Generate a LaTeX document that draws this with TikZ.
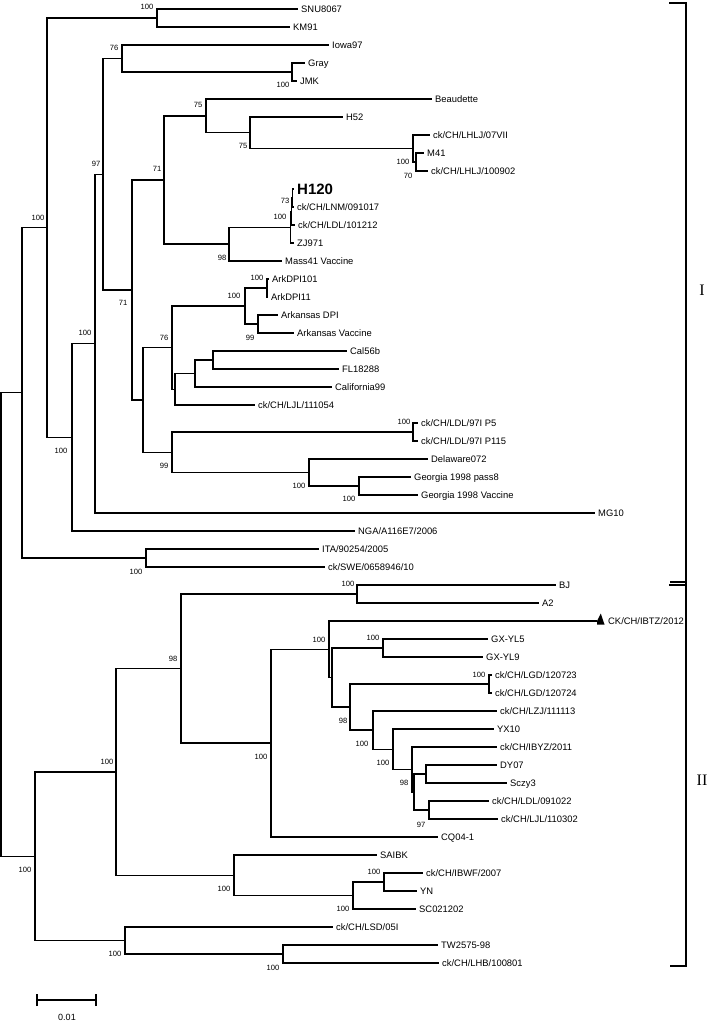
\documentclass[tikz,border=0pt]{standalone}
\usepackage{fontspec}
\setmainfont{Liberation Sans}
\newfontfamily\romfont{Liberation Serif}
\begin{document}
\begin{tikzpicture}[x=1pt,y=-1pt,
  br/.style={line width=1.3pt},
  brk/.style={line width=1.8pt},
  taxon/.style={anchor=west, inner xsep=3pt, inner ysep=0pt, text height=6.7pt, text depth=0pt, font=\fontsize{9.4}{9.4}\selectfont},
  bigtaxon/.style={anchor=west, inner xsep=3pt, inner ysep=0pt, text height=10.7pt, text depth=0pt, font=\fontsize{15}{15}\selectfont\bfseries},
  bs/.style={inner sep=0pt, font=\fontsize{7.6}{7.6}\selectfont},
  clade/.style={inner sep=0pt, font=\fontsize{16}{16}\selectfont\romfont}]
\useasboundingbox (0,0) rectangle (710,1022);
% ---------- internal nodes ----------
\coordinate (R0) at (1,624.5);
\coordinate (A) at (22,392.8);
\coordinate (B) at (47,227.7);
\coordinate (SK) at (157,18);
\coordinate (C) at (72,437.3);
\coordinate (D) at (95,343.6);
\coordinate (E) at (103,174.25);
\coordinate (F) at (122,58.5);
\coordinate (GJ) at (292,72);
\coordinate (G) at (132,290);
\coordinate (H) at (164,180);
\coordinate (I) at (206,115.9);
\coordinate (K) at (250,132.75);
\coordinate (L) at (413,148.5);
\coordinate (L2) at (416,162);
\coordinate (J) at (229,244.1);
\coordinate (N) at (290.5,227.25);
\coordinate (N2) at (291.5,211.5);
\coordinate (N1) at (292.5,198);
\coordinate (M) at (143,399.9);
\coordinate (O) at (172,347.6);
\coordinate (Q) at (245,306);
\coordinate (S) at (267,288);
\coordinate (T) at (258,324);
\coordinate (R) at (175,389.25);
\coordinate (V) at (195,373.5);
\coordinate (U) at (213,360);
\coordinate (P) at (172,452.25);
\coordinate (W) at (413,432);
\coordinate (X) at (309,472.5);
\coordinate (Y) at (359,486);
\coordinate (IS) at (146,558);
\coordinate (Z) at (35,856.2);
\coordinate (AA) at (116,771.9);
\coordinate (AC) at (181,668.6);
\coordinate (BA) at (357,594);
\coordinate (AE) at (271,743.1);
\coordinate (AF) at (329,649.3);
\coordinate (AG) at (332,677.5);
\coordinate (AH) at (383,648);
\coordinate (AI) at (350,707.1);
\coordinate (LG) at (489,684);
\coordinate (AJ) at (373,730.1);
\coordinate (AK) at (393,749.25);
\coordinate (AL) at (412,769.5);
\coordinate (AM) at (414,792);
\coordinate (AN) at (426,774);
\coordinate (AO) at (429,810);
\coordinate (AD) at (234,875.25);
\coordinate (AP) at (353,895.5);
\coordinate (AQ) at (384,882);
\coordinate (AB) at (125,940.5);
\coordinate (AR) at (283,954);
% ---------- taxa ----------
\node[taxon] (t1) at (298,9) {SNU8067};
\node[taxon] (t2) at (290,27) {KM91};
\node[taxon] (t3) at (329,45) {Iowa97};
\node[taxon] (t4) at (305,63) {Gray};
\node[taxon] (t5) at (297,81) {JMK};
\node[taxon] (t6) at (432,99) {Beaudette};
\node[taxon] (t7) at (343,117) {H52};
\node[taxon] (t8) at (430,135) {ck/CH/LHLJ/07VII};
\node[taxon] (t9) at (424,153) {M41};
\node[taxon] (t10) at (428,171) {ck/CH/LHLJ/100902};
\node[bigtaxon] (t11) at (294,189) {H120};
\node[taxon] (t12) at (294,207) {ck/CH/LNM/091017};
\node[taxon] (t13) at (295,225) {ck/CH/LDL/101212};
\node[taxon] (t14) at (294,243) {ZJ971};
\node[taxon] (t15) at (282,261) {Mass41 Vaccine};
\node[taxon] (t16) at (269,279) {ArkDPI101};
\node[taxon] (t17) at (268,297) {ArkDPI11};
\node[taxon] (t18) at (278,315) {Arkansas DPI};
\node[taxon] (t19) at (294,333) {Arkansas Vaccine};
\node[taxon] (t20) at (347,351) {Cal56b};
\node[taxon] (t21) at (339,369) {FL18288};
\node[taxon] (t22) at (332,387) {California99};
\node[taxon] (t23) at (255,405) {ck/CH/LJL/111054};
\node[taxon] (t24) at (418,423) {ck/CH/LDL/97I P5};
\node[taxon] (t25) at (418,441) {ck/CH/LDL/97I P115};
\node[taxon] (t26) at (428,459) {Delaware072};
\node[taxon] (t27) at (411,477) {Georgia 1998 pass8};
\node[taxon] (t28) at (418,495) {Georgia 1998 Vaccine};
\node[taxon] (t29) at (595,513) {MG10};
\node[taxon] (t30) at (355,531) {NGA/A116E7/2006};
\node[taxon] (t31) at (319,549) {ITA/90254/2005};
\node[taxon] (t32) at (325,567) {ck/SWE/0658946/10};
\node[taxon] (t33) at (556,585) {BJ};
\node[taxon] (t34) at (539,603) {A2};
\coordinate (t35) at (597,621);
\node[taxon] (t35l) at (605,621) {CK/CH/IBTZ/2012};
\node[taxon] (t36) at (488,639) {GX-YL5};
\node[taxon] (t37) at (483,657) {GX-YL9};
\node[taxon] (t38) at (492,675) {ck/CH/LGD/120723};
\node[taxon] (t39) at (492,693) {ck/CH/LGD/120724};
\node[taxon] (t40) at (497,711) {ck/CH/LZJ/111113};
\node[taxon] (t41) at (494,729) {YX10};
\node[taxon] (t42) at (497,747) {ck/CH/IBYZ/2011};
\node[taxon] (t43) at (497,765) {DY07};
\node[taxon] (t44) at (507,783) {Sczy3};
\node[taxon] (t45) at (489,801) {ck/CH/LDL/091022};
\node[taxon] (t46) at (498,819) {ck/CH/LJL/110302};
\node[taxon] (t47) at (438,837) {CQ04-1};
\node[taxon] (t48) at (377,855) {SAIBK};
\node[taxon] (t49) at (423,873) {ck/CH/IBWF/2007};
\node[taxon] (t50) at (417,891) {YN};
\node[taxon] (t51) at (416,909) {SC021202};
\node[taxon] (t52) at (333,927) {ck/CH/LSD/05I};
\node[taxon] (t53) at (438,945) {TW2575-98};
\node[taxon] (t54) at (439,963) {ck/CH/LHB/100801};
% ---------- branches ----------
\draw[br] (R0) |- (A);  \draw[br] (R0) |- (Z);
\draw[br] (A) |- (B);   \draw[br] (A) |- (IS);
\draw[br] (B) |- (SK);  \draw[br] (B) |- (C);
\draw[br] (SK) |- (t1.west); \draw[br] (SK) |- (t2.west);
\draw[br] (C) |- (D);   \draw[br] (C) |- (t30.west);
\draw[br] (D) |- (E);   \draw[br] (D) |- (t29.west);
\draw[br] (E) |- (F);   \draw[br] (E) |- (G);
\draw[br] (F) |- (t3.west); \draw[br] (F) |- (GJ);
\draw[br] (GJ) |- (t4.west); \draw[br] (GJ) |- (t5.west);
\draw[br] (G) |- (H);   \draw[br] (G) |- (M);
\draw[br] (H) |- (I);   \draw[br] (H) |- (J);
\draw[br] (I) |- (t6.west); \draw[br] (I) |- (K);
\draw[br] (K) |- (t7.west); \draw[br] (K) |- (L);
\draw[br] (L) |- (t8.west); \draw[br] (L) |- (L2);
\draw[br] (L2) |- (t9.west); \draw[br] (L2) |- (t10.west);
\draw[br] (J) |- (N);   \draw[br] (J) |- (t15.west);
\draw[br] (N) |- (N2);  \draw[br] (N) |- (t14.west);
\draw[br] (N2) |- (N1); \draw[br] (N2) |- (t13.west);
\draw[br] (N1) |- (t11.west); \draw[br] (N1) |- (t12.west);
\draw[br] (M) |- (O);   \draw[br] (M) |- (P);
\draw[br] (O) |- (Q);   \draw[br] (O) |- (R);
\draw[br] (Q) |- (S);   \draw[br] (Q) |- (T);
\draw[br] (S) |- (t16.west); \draw[br] (S) |- (t17.west);
\draw[br] (T) |- (t18.west); \draw[br] (T) |- (t19.west);
\draw[br] (R) |- (V);   \draw[br] (R) |- (t23.west);
\draw[br] (V) |- (U);   \draw[br] (V) |- (t22.west);
\draw[br] (U) |- (t20.west); \draw[br] (U) |- (t21.west);
\draw[br] (P) |- (W);   \draw[br] (P) |- (X);
\draw[br] (W) |- (t24.west); \draw[br] (W) |- (t25.west);
\draw[br] (X) |- (t26.west); \draw[br] (X) |- (Y);
\draw[br] (Y) |- (t27.west); \draw[br] (Y) |- (t28.west);
\draw[br] (IS) |- (t31.west); \draw[br] (IS) |- (t32.west);
\draw[br] (Z) |- (AA);  \draw[br] (Z) |- (AB);
\draw[br] (AA) |- (AC); \draw[br] (AA) |- (AD);
\draw[br] (AC) |- (BA); \draw[br] (AC) |- (AE);
\draw[br] (BA) |- (t33.west); \draw[br] (BA) |- (t34.west);
\draw[br] (AE) |- (AF); \draw[br] (AE) |- (t47.west);
\draw[br] (AF) |- (t35); \draw[br] (AF) |- (AG);
\draw[br] (AG) |- (AH); \draw[br] (AG) |- (AI);
\draw[br] (AH) |- (t36.west); \draw[br] (AH) |- (t37.west);
\draw[br] (AI) |- (LG); \draw[br] (AI) |- (AJ);
\draw[br] (LG) |- (t38.west); \draw[br] (LG) |- (t39.west);
\draw[br] (AJ) |- (t40.west); \draw[br] (AJ) |- (AK);
\draw[br] (AK) |- (t41.west); \draw[br] (AK) |- (AL);
\draw[br] (AL) |- (t42.west); \draw[br] (AL) |- (AM);
\draw[br] (AM) |- (AN); \draw[br] (AM) |- (AO);
\draw[br] (AN) |- (t43.west); \draw[br] (AN) |- (t44.west);
\draw[br] (AO) |- (t45.west); \draw[br] (AO) |- (t46.west);
\draw[br] (AD) |- (t48.west); \draw[br] (AD) |- (AP);
\draw[br] (AP) |- (AQ); \draw[br] (AP) |- (t51.west);
\draw[br] (AQ) |- (t49.west); \draw[br] (AQ) |- (t50.west);
\draw[br] (AB) |- (t52.west); \draw[br] (AB) |- (AR);
\draw[br] (AR) |- (t53.west); \draw[br] (AR) |- (t54.west);
% triangle marker
\fill (t35) -- ++(0,3.5) -- ++(7.5,0) -- ++(-3.75,-11) -- cycle;
% ---------- bootstrap values ----------
\node[bs] (b1) at (147,7) {100};
\node[bs] (b2) at (38,218) {100};
\node[bs] (b3) at (114,48) {76};
\node[bs] (b4) at (283,85) {100};
\node[bs] (b5) at (96,164) {97};
\node[bs] (b6) at (85,333) {100};
\node[bs] (b7) at (61,451) {100};
\node[bs] (b8) at (198,105) {75};
\node[bs] (b9) at (243,146) {75};
\node[bs] (b10) at (157,169) {71};
\node[bs] (b11) at (123,303) {71};
\node[bs] (b12) at (222,258) {98};
\node[bs] (b13) at (285,201) {73};
\node[bs] (b14) at (280,217) {100};
\node[bs] (b15) at (403,162) {100};
\node[bs] (b16) at (408,176) {70};
\node[bs] (b17) at (257,278) {100};
\node[bs] (b18) at (234,296) {100};
\node[bs] (b19) at (250,338) {99};
\node[bs] (b20) at (164,338) {76};
\node[bs] (b21) at (164,466) {99};
\node[bs] (b22) at (404,422) {100};
\node[bs] (b23) at (299,486) {100};
\node[bs] (b24) at (349,499) {100};
\node[bs] (b25) at (136,572) {100};
\node[bs] (b26) at (25,870) {100};
\node[bs] (b27) at (107,762) {100};
\node[bs] (b28) at (173,659) {98};
\node[bs] (b29) at (348,584) {100};
\node[bs] (b30) at (261,757) {100};
\node[bs] (b31) at (319,640) {100};
\node[bs] (b32) at (373,638) {100};
\node[bs] (b33) at (343,721) {98};
\node[bs] (b34) at (479,675) {100};
\node[bs] (b35) at (362,744) {100};
\node[bs] (b36) at (383,763) {100};
\node[bs] (b37) at (404,783) {98};
\node[bs] (b38) at (421,825) {97};
\node[bs] (b39) at (224,889) {100};
\node[bs] (b40) at (374,872) {100};
\node[bs] (b41) at (343,909) {100};
\node[bs] (b42) at (115,954) {100};
\node[bs] (b43) at (273,968) {100};
% ---------- clade brackets ----------
\coordinate (IT) at (686,3);
\coordinate (IB) at (686,585);
\draw[brk] ([xshift=-17pt]IT) -- (IT) -- (IB) -- ([xshift=-17pt]IB);
\node[clade] (cI) at (702,290) {I};
\coordinate (IIT) at (686,582);
\coordinate (IIB) at (686,966);
\draw[brk] ([xshift=-16pt]IIT) -- (IIT) -- (IIB) -- ([xshift=-16pt]IIB);
\node[clade] (cII) at (702,780) {II};
% ---------- scale bar ----------
\coordinate (sb1) at (37,1000);
\coordinate (sb2) at (96,1000);
\draw[br] (sb1) -- (sb2);
\draw[br] ([yshift=-6pt]sb1) -- ([yshift=6pt]sb1);
\draw[br] ([yshift=-6pt]sb2) -- ([yshift=6pt]sb2);
\node[bs, font=\fontsize{9}{9}\selectfont] (sbl) at (67,1017) {0.01};
\end{tikzpicture}
\end{document}
